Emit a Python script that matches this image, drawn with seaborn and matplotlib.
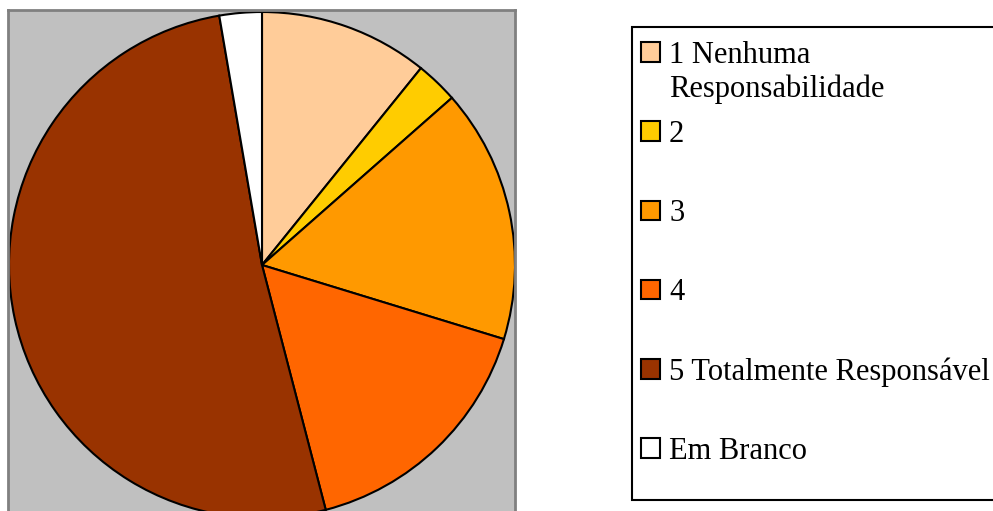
#for data visualisation
import matplotlib
matplotlib.use('Agg')
import matplotlib.pyplot as plt
import matplotlib.patches as mpatches
import seaborn as sns

#data (counts per answer)
categorias = ['1 Nenhuma\nResponsabilidade', '2', '3', '4', '5 Totalmente Responsável', 'Em Branco']
respostas = [4, 1, 6, 6, 19, 1]
cores = ['#FFCC99', '#FFCC00', '#FF9900', '#FF6600', '#993300', '#FFFFFF']

sns.set_style('white')
plt.rcParams['font.family'] = ['Liberation Serif', 'DejaVu Serif']
plt.rcParams['text.color'] = 'black'

fig = plt.figure(figsize=(9.93, 5.11), dpi=100)
W, H = 993, 511

#plot area (grey box), in pixel coordinates
ax = fig.add_axes([8 / W, 0, 507 / W, 501 / H])

wedges, _ = ax.pie(respostas, colors=cores, startangle=90, counterclock=False,
                   radius=1.0, wedgeprops=dict(edgecolor='black', linewidth=1.5))

r = 253.0
ax.set_xlim((8 - 262) / r, (515 - 262) / r)
ax.set_ylim(-(511 - 265) / r, (265 - 10) / r)
ax.set_aspect('auto')
ax.set_frame_on(True)          #pie switches the frame off
ax.set_facecolor('#C0C0C0')
for lado in ['top', 'left', 'right']:
    ax.spines[lado].set_visible(True)
    ax.spines[lado].set_color('#808080')
    ax.spines[lado].set_linewidth(2)
ax.spines['bottom'].set_visible(False)
ax.set_xticks([])
ax.set_yticks([])

#legend frame (runs off the right edge like the original)
moldura = mpatches.Rectangle((632 / W, 1 - 500 / H), 400 / W, 473 / H,
                             transform=fig.transFigure, facecolor='white',
                             edgecolor='black', linewidth=1.5, zorder=0)
fig.patches.append(moldura)

#entries sit in even slots; the long first label wraps below its slot
rotulos = [c.split('\n')[0] for c in categorias]
handles = [mpatches.Patch(facecolor=c, edgecolor='black', linewidth=1.5) for c in cores]
leg = fig.legend(handles, rotulos, loc='upper left',
                 bbox_to_anchor=(641 / W, 1 - 41 / H), bbox_transform=fig.transFigure,
                 fontsize=22, frameon=False,
                 handlelength=0.62, handleheight=0.62, handletextpad=0.3,
                 labelspacing=1.64, borderpad=0, borderaxespad=0)

fig.canvas.draw()
bb = leg.get_texts()[0].get_window_extent()
resto = categorias[0].split('\n')[1]
fig.text(bb.x0 / W, (bb.y0 - 34) / H, resto, fontsize=22, ha='left', va='bottom')

fig.savefig('out.png', dpi=100)
